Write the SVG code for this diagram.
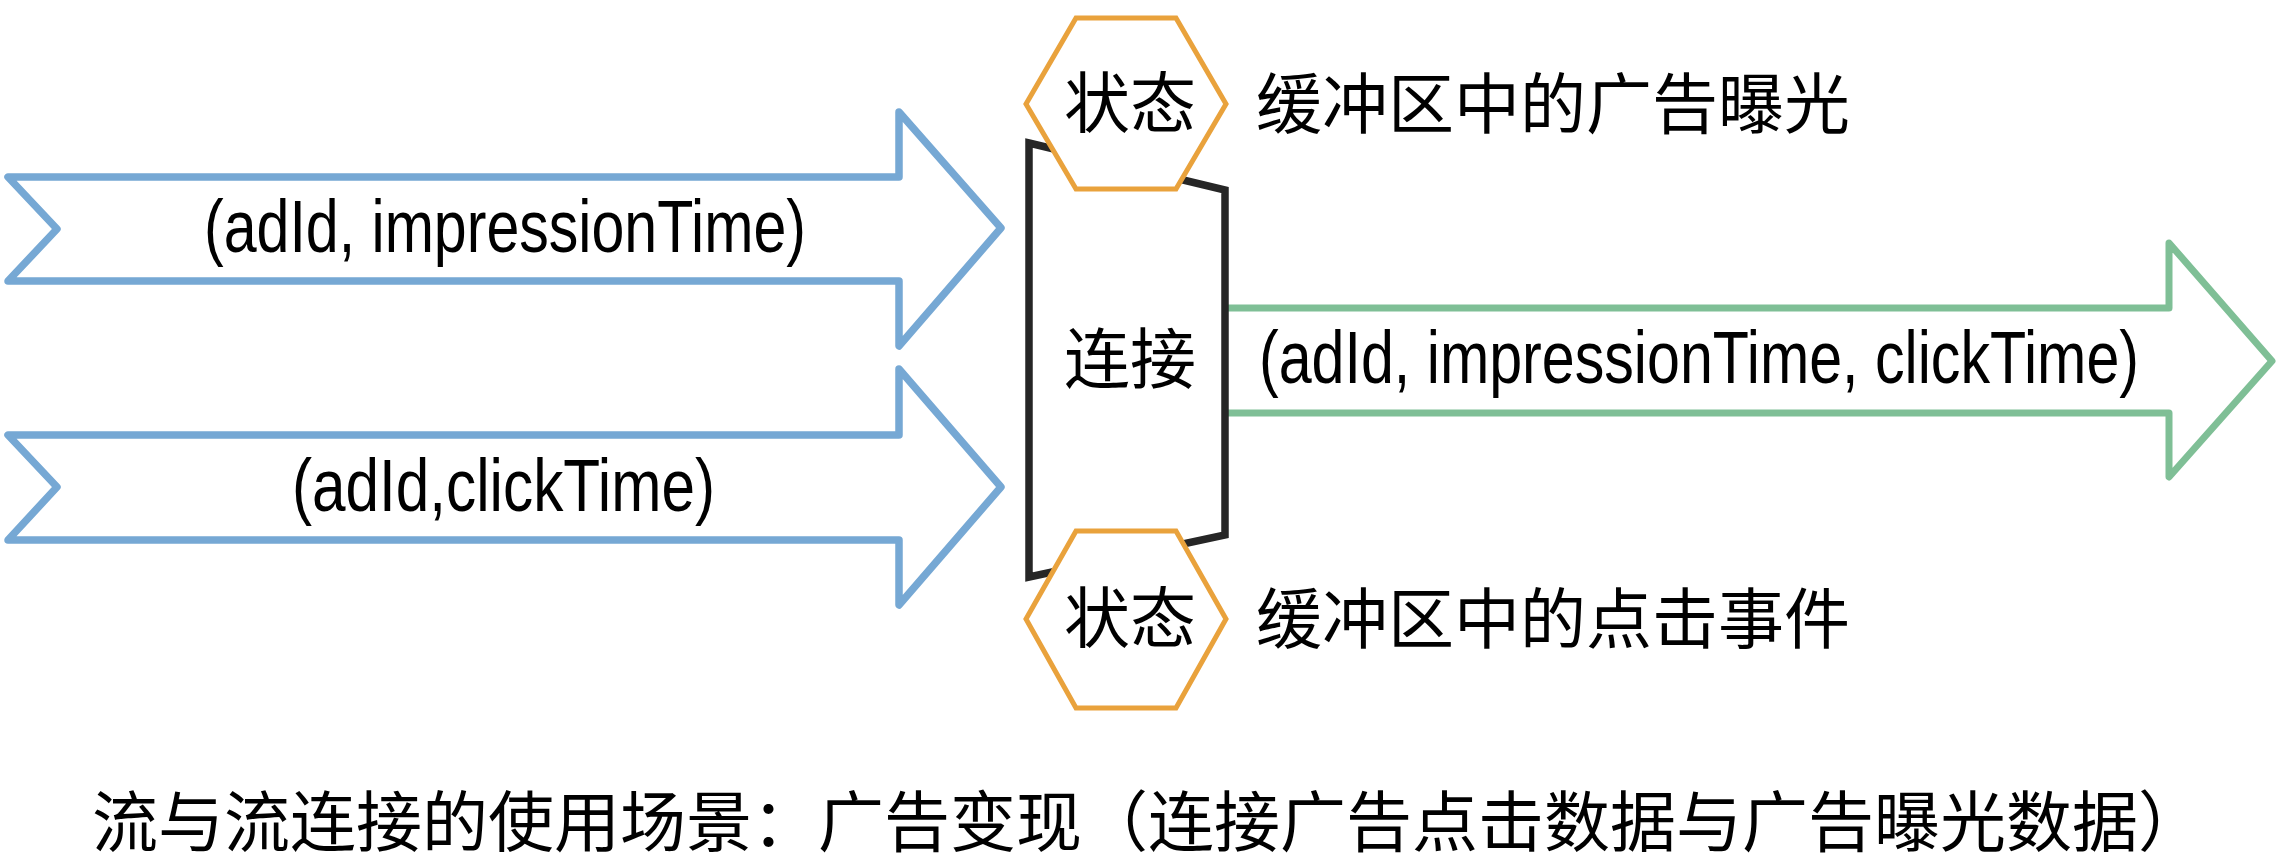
<svg xmlns="http://www.w3.org/2000/svg" width="2280" height="868" viewBox="0 0 2280 868">
<style>
.bg{fill:#ffffff}
.blue{fill:#ffffff;stroke:#76a8d4;stroke-width:7.5;stroke-linejoin:round;stroke-linecap:round}
.green{fill:#ffffff;stroke:#7fbf96;stroke-width:7;stroke-linejoin:round;stroke-linecap:butt}
.join{fill:#ffffff;stroke:#262626;stroke-width:7.5;stroke-linejoin:miter}
.hex{fill:#ffffff;stroke:#e9a23c;stroke-width:5;stroke-linejoin:miter}
.lat{font-family:"Liberation Sans",Arial,sans-serif;font-size:74px;fill:#000}
.cjk{font-family:"Noto Sans CJK SC","Noto Sans",sans-serif;font-size:66px;fill:#000}
.mid{text-anchor:middle}
</style>
<rect class="bg" x="0" y="0" width="2280" height="868"/>
<g id="connectors">
  <g id="stream-impressions">
    <polygon class="blue" points="8,177 899,177 899,112 1001,228 899,346 899,281 8,281 57,229"/>
    <text class="lat" x="204" y="252" textLength="602" lengthAdjust="spacingAndGlyphs">(adId, impressionTime)</text>
  </g>
  <g id="stream-clicks">
    <polygon class="blue" points="8,435 899,435 899,369 1001,487 899,605 899,540 8,540 57,487"/>
    <text class="lat" x="292" y="511" textLength="423" lengthAdjust="spacingAndGlyphs">(adId,clickTime)</text>
  </g>
  <g id="stream-output">
    <polyline class="green" points="1226,308 2169,308 2169,243 2272,361 2169,477 2169,413 1226,413"/>
    <text class="lat" x="1259" y="383" textLength="880" lengthAdjust="spacingAndGlyphs">(adId, impressionTime, clickTime)</text>
  </g>
</g>
<g id="join">
  <polygon class="join" points="1029,143 1225,190 1225,535 1029,577"/>
  <text class="cjk mid" x="1130" y="383">连接</text>
</g>
<g id="state-top">
  <polygon class="hex" points="1026,104 1076,18 1176,18 1226,104 1176,189 1076,189"/>
  <text class="cjk mid" x="1130" y="127">状态</text>
</g>
<g id="state-bottom">
  <polygon class="hex" points="1026,619 1076,531 1176,531 1226,619 1176,708 1076,708"/>
  <text class="cjk mid" x="1130" y="642">状态</text>
</g>
<g id="label-top">
  <text class="cjk" x="1256" y="128">缓冲区中的广告曝光</text>
</g>
<g id="label-bottom">
  <text class="cjk" x="1256" y="643">缓冲区中的点击事件</text>
</g>
<g id="caption">
  <text class="cjk" x="92" y="846">流与流连接的使用场景：广告变现（连接广告点击数据与广告曝光数据）</text>
</g>
</svg>
